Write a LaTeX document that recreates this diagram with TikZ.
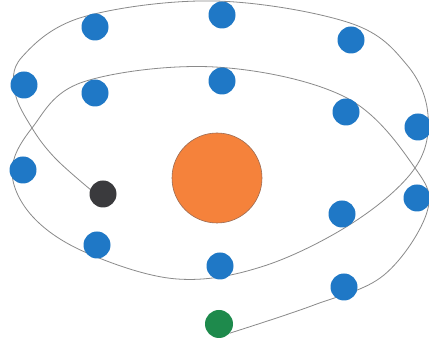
\documentclass[tikz,border=0pt]{standalone}
\usetikzlibrary{backgrounds}
\definecolor{dotblue}{HTML}{1F78C6}
\definecolor{sunorange}{HTML}{F5823B}
\definecolor{sunrim}{HTML}{9C6B52}
\definecolor{dotblack}{HTML}{3A3A3D}
\definecolor{dotgreen}{HTML}{1E8A4C}
\definecolor{wiregray}{HTML}{8A8A8A}
\tikzset{
  bdot/.style={circle,fill=dotblue,minimum size=27pt,inner sep=0pt},
  kdot/.style={circle,fill=dotblack,minimum size=27pt,inner sep=0pt},
  gdot/.style={circle,fill=dotgreen,minimum size=28pt,inner sep=0pt},
  sun/.style={circle,fill=sunorange,draw=sunrim,line width=0.6pt,minimum size=90pt,inner sep=0pt},
  wire/.style={draw=wiregray,line width=0.8pt}
}
\begin{document}
\begin{tikzpicture}[x=1pt,y=-1pt]
\useasboundingbox (0,0) rectangle (429,344);
\node[sun] (sun) at (217,178) {};
\node[bdot] (b1) at (95,27) {};
\node[bdot] (b2) at (222,15) {};
\node[bdot] (b3) at (351,40) {};
\node[bdot] (b4) at (24,85) {};
\node[bdot] (b5) at (95,93) {};
\node[bdot] (b6) at (222,81) {};
\node[bdot] (b7) at (346,112) {};
\node[bdot] (b8) at (418,127) {};
\node[bdot] (b9) at (23,170) {};
\node[bdot] (b10) at (417,198) {};
\node[bdot] (b11) at (342,214) {};
\node[bdot] (b12) at (97,245) {};
\node[bdot] (b13) at (220,266) {};
\node[bdot] (b14) at (344,287) {};
\node[kdot] (blk) at (103,194) {};
\node[gdot] (grn) at (219,324) {};
\begin{pgfonlayer}{background}
\fill[white] (0,0) rectangle (429,344);
\draw[wire] plot[smooth,tension=0.6] coordinates {
  (blk.160) (55,158) (32,128) (15,92) (22,57) (83,17) (215,1) (350,23)
  (407,65) (428,115) (415,168) (354,222) (264,266) (177,279) (87,253)
  (33,217) (12,172) (32,128) (83,82) (215,67) (345,97) (415,168) (427,212)
  (384,275) (314,305) (grn.-40)};
\end{pgfonlayer}
\end{tikzpicture}
\end{document}
